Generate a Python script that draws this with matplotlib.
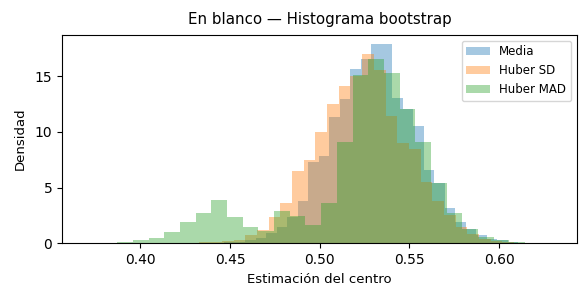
import numpy as np
import matplotlib.pyplot as plt

media_rango = (0.4350, 0.6108)
media_dens = [0.04, 0.04, 0.1, 0.15, 0.3, 0.5, 0.9, 1.5, 2.4, 3.8,
              7.3, 7.85, 11.3, 12.95, 15.6, 16.5, 17.9, 17.9, 13.0, 12.0,
              10.5, 6.6, 5.4, 3.2, 1.9, 1.3, 0.75, 0.4, 0.25, 0.1]

huber_sd_rango = (0.4195, 0.6148)
huber_sd_dens = [0.05, 0.05, 0.1, 0.1, 0.2, 0.3, 0.75, 1.2, 2.4, 3.6,
                 6.5, 7.5, 10.0, 12.5, 14.1, 15.0, 17.0, 15.5, 11.4, 9.0,
                 8.5, 5.5, 3.8, 2.5, 1.5, 0.8, 0.4, 0.2, 0.1, 0.05]

huber_mad_rango = (0.3697, 0.6319)
huber_mad_dens = [0.03, 0.05, 0.1, 0.25, 0.45, 1.0, 1.9, 2.7, 3.9, 2.35,
                  1.5, 1.1, 2.9, 2.45, 1.65, 3.6, 9.05, 15.1, 16.5, 15.3,
                  12.0, 9.1, 5.4, 2.7, 1.25, 0.6, 0.25, 0.1, 0.05, 0.03]

series = [
    ("Media", media_rango, media_dens, "C0"),
    ("Huber SD", huber_sd_rango, huber_sd_dens, "C1"),
    ("Huber MAD", huber_mad_rango, huber_mad_dens, "C2"),
]

fig = plt.figure(figsize=(5.81, 2.98), dpi=100)
ax = fig.add_axes([0.1067, 0.1836, 0.8863, 0.6997])

for nombre, rango, dens, color in series:
    bordes = np.linspace(rango[0], rango[1], len(dens) + 1)
    ax.stairs(dens, bordes, fill=True, alpha=0.4, color=color, label=nombre)

ax.set_xlim(0.3563, 0.6434)
ax.set_ylim(0, 18.7)
ax.set_xticks([0.40, 0.45, 0.50, 0.55, 0.60])
ax.set_yticks([0, 5, 10, 15])
ax.tick_params(labelsize=10)
ax.set_title("En blanco — Histograma bootstrap", fontsize=10.8, pad=8)
ax.set_xlabel("Estimación del centro", fontsize=9.5)
ax.set_ylabel("Densidad", fontsize=9.5, labelpad=6)
ax.legend(loc="upper right", fontsize=8.5)

fig.savefig("out.png", dpi=100)
